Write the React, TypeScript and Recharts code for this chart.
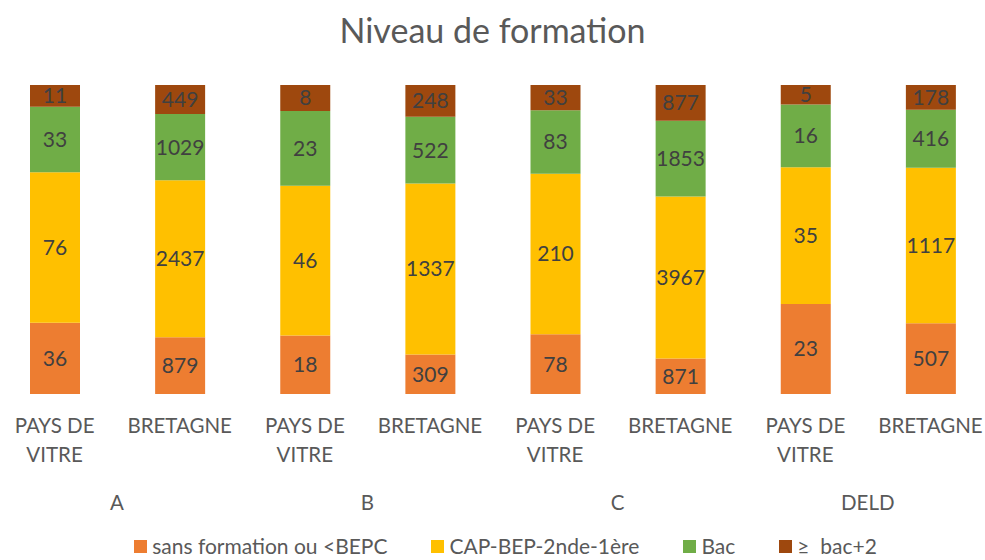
import { Bar, BarChart, LabelList, Legend, XAxis, YAxis } from 'recharts';

const categories = [
  'PAYS DE VITRE',
  'BRETAGNE',
  'PAYS DE VITRE',
  'BRETAGNE',
  'PAYS DE VITRE',
  'BRETAGNE',
  'PAYS DE VITRE',
  'BRETAGNE',
];
const groups = ['A', 'A', 'B', 'B', 'C', 'C', 'DELD', 'DELD'];

const sansFormation = [36, 879, 18, 309, 78, 871, 23, 507];
const capBep = [76, 2437, 46, 1337, 210, 3967, 35, 1117];
const bac = [33, 1029, 23, 522, 83, 1853, 16, 416];
const bacPlus2 = [11, 449, 8, 248, 33, 877, 5, 178];

const series = [
  { key: 'sans', name: 'sans formation ou <BEPC', color: '#ED7D31' },
  { key: 'cap', name: 'CAP-BEP-2nde-1ère', color: '#FFC000' },
  { key: 'bac', name: 'Bac', color: '#70AD47' },
  { key: 'bac2', name: '≥  bac+2', color: '#9E480E' },
];

const data = categories.map((label, i) => ({
  id: `${groups[i]}-${label}`,
  label,
  group: groups[i],
  sans: sansFormation[i],
  cap: capBep[i],
  bac: bac[i],
  bac2: bacPlus2[i],
}));

const FONT = 'Lato, "Open Sans", sans-serif';
const TEXT = '#595959';

function CategoryTick({ x, y, index }: any) {
  const row = data[index];
  const lines = row.label === 'PAYS DE VITRE' ? ['PAYS DE', 'VITRE'] : [row.label];
  return (
    <g>
      {lines.map((line, i) => (
        <text
          key={i}
          x={x}
          y={y + 31}
          dy={i * 29}
          textAnchor="middle"
          fill={TEXT}
          fontSize={20.5}
          fontFamily={FONT}
        >
          {line}
        </text>
      ))}
      {index % 2 === 0 && (
        <text
          x={x + 62.5}
          y={y + 108}
          textAnchor="middle"
          fill={TEXT}
          fontSize={20.5}
          fontFamily={FONT}
        >
          {row.group}
        </text>
      )}
    </g>
  );
}

function LegendContent() {
  return (
    <div
      style={{
        height: 30,
        display: 'flex',
        justifyContent: 'center',
        alignItems: 'center',
        gap: 44,
        paddingLeft: 26,
        boxSizing: 'border-box',
        fontFamily: FONT,
        fontSize: 21,
        lineHeight: '22px',
        color: TEXT,
        transform: 'translateY(1px)',
      }}
    >
      {series.map((s) => (
        <div key={s.key} style={{ display: 'flex', alignItems: 'center', gap: 5 }}>
          <span style={{ width: 13, height: 13, background: s.color, display: 'inline-block' }} />
          <span style={{ whiteSpace: 'pre' }}>{s.name}</span>
        </div>
      ))}
    </div>
  );
}

export default function App() {
  return (
    <div style={{ position: 'absolute', left: 0, top: 0, width: 985, height: 560, background: '#fff' }}>
      <div
        style={{
          position: 'absolute',
          top: 9,
          left: 0,
          width: 985,
          textAlign: 'center',
          fontFamily: FONT,
          fontSize: 34,
          color: TEXT,
        }}
      >
        Niveau de formation
      </div>
      <BarChart
        width={985}
        height={560}
        data={data}
        stackOffset="expand"
        margin={{ top: 85, right: -8, left: -8, bottom: 0 }}
      >
        <XAxis
          dataKey="id"
          axisLine={false}
          tickLine={false}
          height={136}
          interval={0}
          tick={<CategoryTick />}
        />
        <YAxis hide domain={[0, 1]} />
        <Legend verticalAlign="bottom" content={<LegendContent />} />
        {series.map((s) => (
          <Bar
            key={s.key}
            dataKey={s.key}
            name={s.name}
            stackId="a"
            fill={s.color}
            barSize={50}
            isAnimationActive={false}
          >
            <LabelList
              dataKey={s.key}
              position="center"
              fill="#404040"
              fontSize={21}
              fontFamily={FONT}
            />
          </Bar>
        ))}
      </BarChart>
    </div>
  );
}
